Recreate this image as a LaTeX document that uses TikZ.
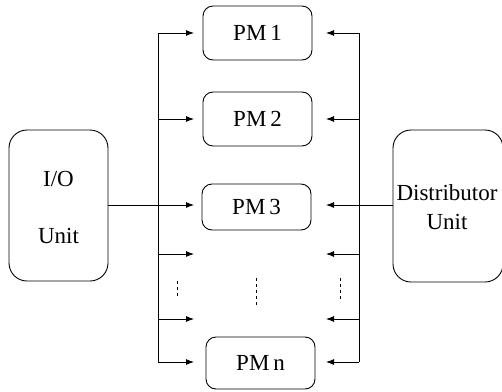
\documentclass[tikz,border=0pt]{standalone}
\usepackage{fontspec}
\setmainfont{Liberation Serif}
\usetikzlibrary{arrows.meta}
\begin{document}
\begin{tikzpicture}[x=1pt,y=-1pt,
  line width=0.9pt,
  txt/.style={font=\fontsize{23}{26}\selectfont},
  pmbox/.style={draw,rounded corners=10pt,minimum width=109pt,inner sep=0pt,txt},
  unitbox/.style={draw,rounded corners=18pt,inner sep=0pt},
  arr/.style={-{Latex[length=8pt,width=6pt]}},
  dotl/.style={line width=0.8pt,dash pattern=on 3pt off 3pt}]
\useasboundingbox (0,0) rectangle (502,391);
\node[pmbox,minimum height=54pt] (pm1) at (257.5,33) {PM\,1};
\node[pmbox,minimum height=54pt] (pm2) at (257.5,119) {PM\,2};
\node[pmbox,minimum height=46pt] (pm3) at (256.5,207) {PM\,3};
\node[pmbox,minimum height=52pt] (pmn) at (260.5,363) {PM\,n};
\node[unitbox,minimum width=99pt,minimum height=151pt] (io) at (58.5,205.5) {};
\node[txt] (iot) at (58.5,179) {I/O};
\node[txt] (iou) at (58.5,236) {Unit};
\node[unitbox,minimum width=110pt,minimum height=152pt] (du) at (448,206) {};
\node[txt] (dut) at (447,193) {Distributor};
\node[txt] (duu) at (447,222) {Unit};
% left bus
\coordinate (lt) at (158,33);
\coordinate (lb) at (158,362);
\draw (lt) -- (lb);
\draw[arr] (lt) -- (194,33);
\draw[arr] (158,119) -- (194,119);
\draw[arr] (io.east |- 0,205) -- (194,205);
\draw[arr] (158,254) -- (194,254);
\draw[arr] (158,319) -- (194,319);
\draw[arr] (lb) -- (194,362);
% right bus
\coordinate (rt) at (359,33);
\coordinate (rb) at (359,362);
\draw (rt) -- (rb);
\draw[arr] (rt) -- (326,33);
\draw[arr] (359,119) -- (326,119);
\draw[arr] (du.west |- 0,205) -- (326,205);
\draw[arr] (359,254) -- (326,254);
\draw[arr] (359,319) -- (326,319);
\draw[arr] (rb) -- (326,362);
% dots
\draw[dotl] (177,281) -- (177,299);
\draw[dotl] (256,278) -- (256,305);
\draw[dotl] (340,278) -- (340,300);
\end{tikzpicture}
\end{document}
